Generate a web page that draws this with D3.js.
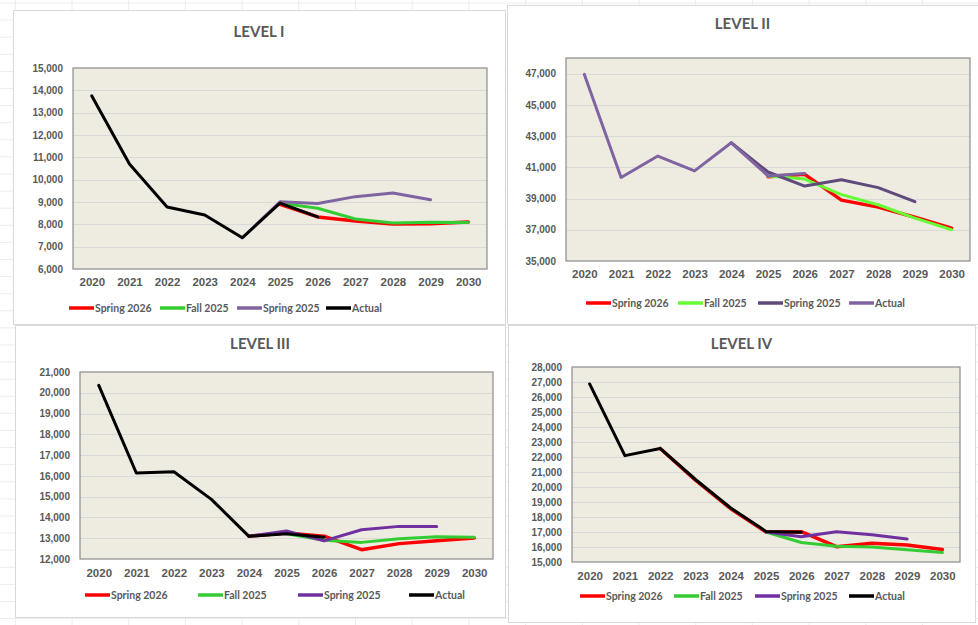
<!DOCTYPE html>
<html>
<head>
<meta charset="utf-8">
<script src="https://cdn.jsdelivr.net/npm/d3@7"></script>
<style>
  body { margin: 0; background: #fff; }
  svg { display: block; font-family: Lato, "Open Sans", sans-serif; }
</style>
</head>
<body>
<svg id="chart" width="978" height="625"></svg>
<script>
// === Dane ===
const years = ["2020", "2021", "2022", "2023", "2024", "2025", "2026", "2027", "2028", "2029", "2030"];
const seriesNames = ["Spring 2026", "Fall 2025", "Spring 2025", "Actual"];

// LEVEL I
const l1Spring2026 = [null, null, null, null, null, 8900, 8330, 8150, 8010, 8030, 8100];
const l1Fall2025   = [null, null, null, null, null, 8950, 8720, 8240, 8060, 8090, 8080];
const l1Spring2025 = [null, null, null, null, 7400, 9010, 8930, 9240, 9400, 9100, null];
const l1Actual     = [13750, 10700, 8780, 8420, 7400, 8950, 8330, null, null, null, null];
const l1Ticks = [6000, 7000, 8000, 9000, 10000, 11000, 12000, 13000, 14000, 15000];

// LEVEL II
const l2Spring2026 = [null, null, null, null, null, 40400, 40550, 38900, 38450, 37800, 37100];
const l2Fall2025   = [null, null, null, null, null, 40450, 40250, 39250, 38600, 37750, 37000];
const l2Spring2025 = [null, null, null, null, 42570, 40700, 39800, 40200, 39700, 38800, null];
const l2Actual     = [46950, 40350, 41720, 40770, 42570, 40450, 40600, null, null, null, null];
const l2Ticks = [35000, 37000, 39000, 41000, 43000, 45000, 47000];

// LEVEL III
const l3Spring2026 = [null, null, null, null, 13100, 13250, 13100, 12450, 12740, 12880, 13010];
const l3Fall2025   = [null, null, null, null, null, 13220, 12900, 12800, 12980, 13070, 13050];
const l3Spring2025 = [null, null, null, null, 13100, 13350, 12870, 13410, 13570, 13570, null];
const l3Actual     = [20360, 16140, 16200, 14870, 13090, 13220, 13050, null, null, null, null];
const l3Ticks = [12000, 13000, 14000, 15000, 16000, 17000, 18000, 19000, 20000, 21000];

// LEVEL IV
const l4Spring2026 = [null, null, 22570, 20460, 18550, 17000, 17020, 16020, 16250, 16130, 15830];
const l4Fall2025   = [null, null, null, null, null, 17000, 16300, 16050, 16000, 15820, 15630];
const l4Spring2025 = [null, null, null, null, null, 17000, 16690, 17020, 16820, 16530, null];
const l4Actual     = [26870, 22090, 22570, 20500, 18600, 17040, 16990, null, null, null, null];
const l4Ticks = [15000, 16000, 17000, 18000, 19000, 20000, 21000, 22000, 23000, 24000, 25000, 26000, 27000, 28000];

// === Układ paneli ===
const panels = [
  { title: "LEVEL I", box: [13, 10, 505, 324], plot: [73, 68, 487, 269], yMax: 15000,
    series: [l1Spring2026, l1Fall2025, l1Spring2025, l1Actual], ticks: l1Ticks,
    colors: ["#ff0000", "#33cc33", "#8064a2", "#000000"],
    titleY: 37, xLabelY: 288, legendY: 308, legendX: [69, 160, 237, 326] },
  { title: "LEVEL II", box: [507, 5, 978, 324], plot: [566, 58, 970, 261], yMax: 48000,
    series: [l2Spring2026, l2Fall2025, l2Spring2025, l2Actual], ticks: l2Ticks,
    colors: ["#ff0000", "#66ff33", "#604a7b", "#8064a2"],
    titleY: 29, xLabelY: 280, legendY: 303, legendX: [586, 678, 758, 849] },
  { title: "LEVEL III", box: [15, 325, 505, 617], plot: [80, 372, 493, 559], yMax: 21000,
    series: [l3Spring2026, l3Fall2025, l3Spring2025, l3Actual], ticks: l3Ticks,
    colors: ["#ff0000", "#33cc33", "#7030a0", "#000000"],
    titleY: 349, xLabelY: 579, legendY: 595, legendX: [85, 198, 298, 409] },
  { title: "LEVEL IV", box: [508, 325, 975, 622], plot: [572, 367, 960, 562], yMax: 28000,
    series: [l4Spring2026, l4Fall2025, l4Spring2025, l4Actual], ticks: l4Ticks,
    colors: ["#ff0000", "#33cc33", "#7030a0", "#000000"],
    titleY: 349, xLabelY: 582, legendY: 596, legendX: [580, 674, 755, 849] }
];

const W = 978, H = 625;
const svg = d3.select("#chart");
const textColor = "#595959";

// tło arkusza - siatka komórek
const bg = svg.append("g");
for (let x = 15.3; x < W; x += 56.7) {
  bg.append("line").attr("x1", x).attr("x2", x).attr("y1", 0).attr("y2", H)
    .attr("stroke", "#ececec").attr("stroke-width", 1);
}
for (let y = 3; y < H; y += 17.1) {
  bg.append("line").attr("x1", 0).attr("x2", W).attr("y1", y).attr("y2", y)
    .attr("stroke", "#ececec").attr("stroke-width", 1);
}

panels.forEach(p => {
  const g = svg.append("g");
  const [bx0, by0, bx1, by1] = p.box;
  const [px0, py0, px1, py1] = p.plot;

  g.append("rect").attr("x", bx0 + 0.5).attr("y", by0 + 0.5)
    .attr("width", bx1 - bx0).attr("height", by1 - by0)
    .attr("fill", "#fff").attr("stroke", "#d9d9d9");

  const x = d3.scalePoint().domain(years).range([px0, px1]).padding(0.5);
  const y = d3.scaleLinear().domain([p.ticks[0], p.yMax]).range([py1, py0]);

  g.append("rect").attr("x", px0).attr("y", py0)
    .attr("width", px1 - px0).attr("height", py1 - py0)
    .attr("fill", "#eeece1");

  // linie siatki
  g.selectAll("line.grid").data(p.ticks.filter(t => t > p.ticks[0] && t < p.yMax))
    .enter().append("line").attr("class", "grid")
    .attr("x1", px0).attr("x2", px1)
    .attr("y1", d => Math.round(y(d)) + 0.5).attr("y2", d => Math.round(y(d)) + 0.5)
    .attr("stroke", "#d9d9d9");

  g.append("rect").attr("x", px0).attr("y", py0)
    .attr("width", px1 - px0).attr("height", py1 - py0)
    .attr("fill", "none").attr("stroke", "#8c8c8c").attr("stroke-width", 1.2);

  // osie
  const yAxis = g.append("g").attr("transform", `translate(${px0},0)`)
    .call(d3.axisLeft(y).tickValues(p.ticks).tickSize(0).tickPadding(10).tickFormat(d3.format(",")));
  yAxis.select(".domain").remove();
  yAxis.selectAll("text").attr("fill", textColor).attr("font-size", 10).attr("font-weight", 700);

  const xAxis = g.append("g").attr("transform", `translate(0,${p.xLabelY - 10.5})`)
    .call(d3.axisBottom(x).tickSize(0).tickPadding(0));
  xAxis.select(".domain").remove();
  xAxis.selectAll("text").attr("fill", textColor).attr("font-size", 11.5).attr("font-weight", 700);

  // serie
  const line = d3.line()
    .defined(d => d != null)
    .x((d, i) => x(years[i]))
    .y(d => y(d));

  p.series.forEach((s, i) => {
    g.append("path").datum(s)
      .attr("d", line)
      .attr("fill", "none")
      .attr("stroke", p.colors[i])
      .attr("stroke-width", i === 0 ? 3.5 : 3)
      .attr("stroke-linejoin", "round")
      .attr("stroke-linecap", "round");
  });

  // tytuł
  g.append("text").attr("x", (bx0 + bx1) / 2).attr("y", p.titleY)
    .attr("text-anchor", "middle").attr("fill", textColor)
    .attr("font-size", 15).attr("font-weight", 700).text(p.title);

  // legenda
  seriesNames.forEach((name, i) => {
    const lx = p.legendX[i];
    g.append("line").attr("x1", lx).attr("x2", lx + 25)
      .attr("y1", p.legendY).attr("y2", p.legendY)
      .attr("stroke", p.colors[i]).attr("stroke-width", 3.5);
    g.append("text").attr("x", lx + 26).attr("y", p.legendY + 3.5)
      .attr("fill", textColor).attr("font-size", 10.5).attr("font-weight", 700)
      .text(name);
  });
});
</script>
</body>
</html>
